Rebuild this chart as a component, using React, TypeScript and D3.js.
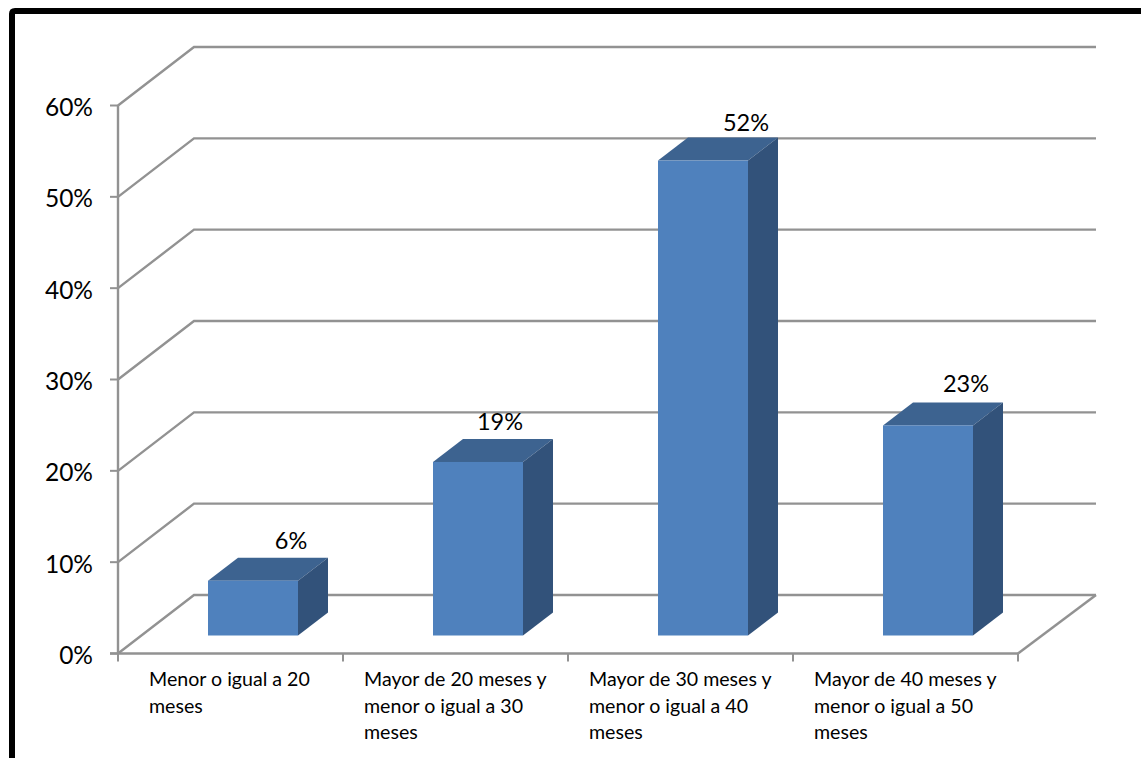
import React from "react";
import * as d3 from "d3";

const categories = [
  ["Menor o igual a 20", "meses"],
  ["Mayor de 20 meses y", "menor o igual a 30", "meses"],
  ["Mayor de 30 meses y", "menor o igual a 40", "meses"],
  ["Mayor de 40 meses y", "menor o igual a 50", "meses"],
];
const values = [6, 19, 52, 23];
const ticks = [0, 10, 20, 30, 40, 50, 60];

const labelDx = [38, 22, 43, 38];
const labelDy = [-40, -40, -38, -41];
const categoryDx = [31, 21, 21, 21];

const FONT = "Lato, 'Noto Sans', sans-serif";
const GRID = "#929292";
const DX = 76;
const DY = -58.5;
const BAR_W = 90;
const BAR_DX = 30;
const BAR_DY = -23;
const BAR_LIFT = 18;

export default function App() {
  const y = d3.scaleLinear().domain([0, 60]).range([653.5, 105.5]);
  const x = d3.scaleBand<number>().domain(d3.range(categories.length)).range([118, 1018]);
  const xEdges = d3.range(categories.length + 1).map((i) => 118 + i * x.step());
  const right = x.range()[1];
  const line = d3.line();

  return (
    <svg
      width={1141}
      height={758}
      style={{ position: "absolute", left: 0, top: 0, background: "#fff" }}
    >
      <path d="M12 758V14Q12 11 15 11H1141" fill="none" stroke="#000" strokeWidth={6} />
      {ticks.map((t) => (
        <path
          key={t}
          d={
            line([
              [x.range()[0], y(t)],
              [x.range()[0] + DX, y(t) + DY],
              [right + 78, y(t) + DY],
            ]) as string
          }
          fill="none"
          stroke={GRID}
          strokeWidth={2.4}
        />
      ))}
      <path
        d={line([[right, y(0)], [right + 78, y(0) + DY]]) as string}
        stroke={GRID}
        strokeWidth={2.4}
        fill="none"
      />
      <path d={line([[118, y(60)], [118, y(0)]]) as string} stroke={GRID} strokeWidth={2.4} fill="none" />
      <path d={line([[110, y(0)], [right, y(0)]]) as string} stroke={GRID} strokeWidth={2.4} fill="none" />
      {ticks.map((t) => (
        <path key={t} d={line([[110, y(t)], [118, y(t)]]) as string} stroke={GRID} strokeWidth={2} fill="none" />
      ))}
      {xEdges.map((e) => (
        <path key={e} d={line([[e, y(0)], [e, y(0) + 8]]) as string} stroke={GRID} strokeWidth={2} fill="none" />
      ))}
      {ticks.map((t) => (
        <text key={t} x={93} y={y(t) + 10.5} textAnchor="end" fontFamily={FONT} fontSize={24.5} fill="#000">
          {t}%
        </text>
      ))}
      {values.map((v, i) => {
        const x0 = (x(i) as number) + BAR_W;
        const x1 = x0 + BAR_W;
        const base = y(0) - BAR_LIFT;
        const top = y(v) - BAR_LIFT;
        const tx = BAR_DX;
        const ty = BAR_DY;
        return (
          <g key={i}>
            <path
              d={`M${x0} ${top}L${x0 + tx} ${top + ty}H${x1 + tx}L${x1} ${top}Z`}
              fill="#3d6390"
            />
            <path
              d={`M${x1} ${top}L${x1 + tx} ${top + ty}V${base + ty}L${x1} ${base}Z`}
              fill="#32527a"
            />
            <rect x={x0} y={top} width={BAR_W} height={base - top} fill="#4f81bd" />
            <text
              x={x0 + BAR_W / 2 + labelDx[i]}
              y={top + labelDy[i] + 8}
              textAnchor="middle"
              fontFamily={FONT}
              fontSize={23.5}
              fill="#000"
            >
              {v}%
            </text>
          </g>
        );
      })}
      {categories.map((lines, i) => (
        <text key={i} fontFamily={FONT} fontSize={19.6} fill="#000">
          {lines.map((l, j) => (
            <tspan key={j} x={(x(i) as number) + categoryDx[i]} y={686 + j * 26.5}>
              {l}
            </tspan>
          ))}
        </text>
      ))}
    </svg>
  );
}
